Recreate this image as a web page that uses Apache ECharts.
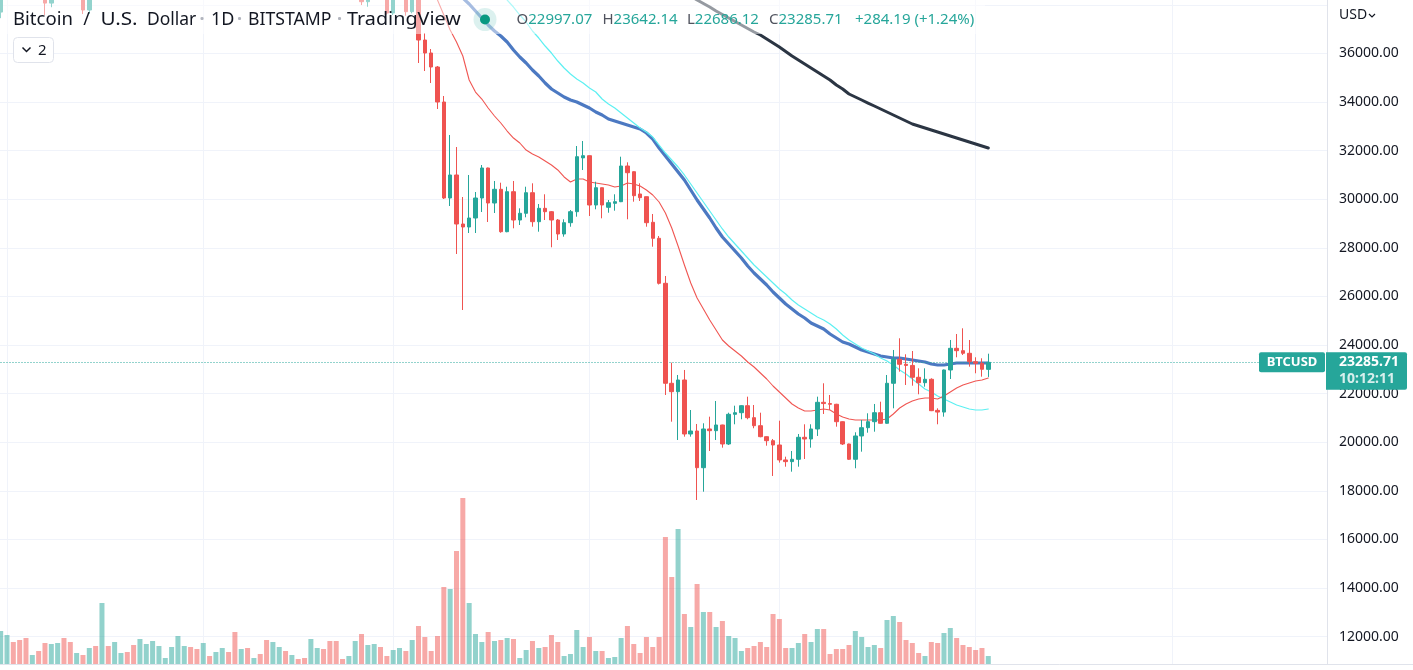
<!DOCTYPE html>
<html><head><meta charset="utf-8">
<script src="https://cdn.jsdelivr.net/npm/echarts@6/dist/echarts.min.js"></script>
<style>html,body{margin:0;padding:0;background:#fff;overflow:hidden}#c{width:1413px;height:670px}</style>
</head><body><div id="c"></div>
<script>
// ---- data (daily BTC/USD, Bitstamp, from 2022-02-28) ----
const firstDay = [2022, 1, 28];
const totalSlots = 210;
const opens = [37700,43190,44420,43910,42450,39150,39400,38420,38070,38730,
41940,39420,38730,38810,37785,39670,39280,41110,40920,41760,
42200,41260,41000,42360,42880,43990,44330,44510,46820,47130,
47460,47060,45530,46300,45850,46450,46620,45520,43200,43450,
42280,42770,42160,39520,40100,41150,39940,40550,40390,39700,
40800,41500,41370,40480,39710,39450,39460,40430,38127,39240,
39740,38600,37660,38470,38530,37716,39690,36551,36016,35440,
34000,30049,30996,28979,28856,29226,30049,31284,29843,30407,
28663,30309,29144,29420,30267,29074,29625,29486,29144,28568,
29033,29486,31700,31790,29761,30473,29667,29831,29897,31366,
31132,30214,30103,29049,28391,26539,22424,22079,22560,20338,
20461,18951,20544,20474,20708,19926,21148,21214,21502,21009,
20679,20227,20062,19885,19270,19200,19297,20202,20132,20544,
21642,21590,21560,20844,19926,19297,20256,20597,20844,21214,
20778,22424,23412,23206,23160,22671,22449,22589,21310,21240,
22972,23864,23766,23659,23313,23247,22997.07];
const highs = [44000,44950,45400,44100,42500,39600,39650,39450,39350,42600,
42000,40250,39300,39000,39900,39850,41700,41450,42300,42400,
42300,41550,43350,43000,44200,45100,44800,46900,48190,48100,
47700,47600,46700,47200,47450,46900,47150,45520,43900,43950,
42800,43450,42400,40700,41550,41500,40850,40700,40600,41100,
41750,42150,42950,40800,39950,39900,40600,40800,39450,40350,
39900,38800,38650,39150,38650,39900,39850,36839,36181,35481,
34247,32642,32148,30090,30996,30296,31407,31300,30749,30679,
30514,30749,29625,30514,30654,29802,30202,29514,29185,29173,
29555,32189,32395,31800,30720,30480,29967,30202,31749,31518,
31150,30654,30110,29391,28486,26840,23272,22766,22972,21325,
20750,20778,21050,21696,20720,21214,21502,21520,21873,21531,
21214,20240,20132,20885,19404,19638,20338,20737,20737,21873,
22424,21943,21580,20860,19940,20408,20914,21190,21573,21667,
22766,23795,24276,23618,23753,23041,23041,22630,21395,22990,
24206,24453,24687,24206,23494,23453,23642.14];
const lows = [37450,42850,43350,41850,38650,38600,38250,37580,37900,38650,
38550,38300,38650,37620,37620,38700,38900,40550,40200,41500,
40950,40500,40900,41850,42600,43600,44100,44400,46650,46950,
46550,45200,44200,45650,45550,45150,45400,43100,42750,42120,
42150,41900,39200,39250,39600,39550,39800,40000,39550,38550,
40600,40900,39800,39200,39300,38900,38300,37990,37920,38880,
38300,37600,37580,38250,37550,37650,35605,35275,34781,33712,
30008,29720,27745,25440,28609,28609,29473,29062,29432,28621,
28640,28802,28938,29255,28868,28663,29144,28021,28321,28457,
28868,29280,31201,29309,29584,29214,29444,29527,29880,29173,
29897,29926,28868,28045,26490,21943,20844,20091,20227,20227,
17622,17963,19638,20091,19775,19885,20737,20943,20943,20573,
20202,19856,18610,19160,18992,18787,18992,19309,19775,20256,
21161,21325,20639,19885,19268,18927,19610,20391,20433,20760,
20760,21395,22902,22354,22325,21972,22284,21280,20737,21050,
22601,23494,23589,23108,22836,22696,22686.12];
const closes = [43190,44420,43910,42450,39150,39400,38420,38070,38730,41940,
39420,38730,38810,37785,39670,39280,41110,40920,41760,42200,
41260,41000,42360,42880,43990,44330,44510,46820,47130,47460,
47060,45530,46300,45850,46450,46620,45520,43200,43450,42280,
42770,42160,39520,40100,41150,39940,40550,40390,39700,40800,
41500,41370,40480,39710,39450,39460,40430,38127,39240,39740,
38600,37660,38470,38530,37716,39690,36551,36016,35440,34000,
30049,30996,28979,28856,29226,30049,31284,29843,30407,28663,
30309,29144,29420,30267,29074,29625,29486,29144,28568,29033,
29486,31749,31790,29761,30473,29761,29856,29897,31366,31090,
30144,30062,29033,28391,26539,22424,22079,22560,20338,20461,
18951,20544,20474,20708,19926,21148,21214,21502,21009,20679,
20227,20062,19885,19270,19200,19297,20202,20132,20544,21642,
21590,21560,20844,19926,19297,20256,20597,20844,21214,20778,
22424,23412,23206,23160,22671,22449,22589,21297,21240,22972,
23864,23766,23659,23313,23247,23001.52,23285.71];
const volumes = [3300,2900,2200,2400,2600,900,1300,2100,2000,2100,
2600,2200,1100,900,1600,1800,6100,1800,2200,1100,
1200,1900,2500,2000,2300,1800,600,1700,2800,1800,
1700,1500,2100,800,1200,1600,1200,3200,1500,1600,
600,1000,2400,2200,1700,1300,900,500,600,2500,
1600,1500,2300,2300,500,800,2300,3000,1900,2000,
1700,800,1400,1600,1300,2400,3800,2700,1300,2800,
7700,7500,11300,16600,6100,3000,2200,3200,2300,2400,
2600,2500,600,1400,2300,1600,1700,2900,2200,800,
1000,3400,1700,2700,1300,1300,600,700,2600,3800,
2000,1100,2700,1700,2700,12700,8700,13500,5000,3700,
8000,5200,5200,3700,4300,2800,2600,1300,1600,1800,
2200,1700,5000,4500,1600,1600,2100,3000,2200,3500,
3500,1000,1500,1500,1900,3300,2700,1700,1900,1600,
4400,4800,4200,2400,2100,1100,800,2200,2100,3100,
3600,2600,1900,1700,1400,1600,800];
// moving averages (first index given)
const maRedStart = 68;
const maRed = [38814,38197,37580,36962,36469,35893,34905,34411,34123,33753,
33424,33136,32806,32518,32313,32024,31860,31737,31572,31407,
31202,30914,30708,30831,30831,30708,30667,30625,30584,30502,
30543,30667,30625,30543,30379,30173,29885,29432,28815,28074,
27292,26552,25934,25482,25029,24617,24206,23959,23753,23547,
23300,23095,22848,22601,22313,22066,21819,21572,21408,21284,
21284,21325,21366,21325,21161,21038,20955,20914,20914,20914,
20914,20914,20955,21161,21408,21572,21696,21778,21819,21819,
21778,21902,22066,22231,22354,22437,22519,22560,22642];
const maBlueStart = 72;
const maBlue = [38526,38279,38032,37744,37456,37168,36921,36716,36469,36140,
35851,35605,35317,35070,34782,34535,34370,34205,34082,33999,
33876,33753,33588,33465,33300,33218,33136,33053,32971,32889,
32724,32477,32107,31778,31448,31119,30790,30378,29967,29597,
29226,28815,28445,28157,27868,27580,27251,26963,26716,26469,
26181,25934,25687,25482,25276,25111,24906,24782,24659,24453,
24288,24124,24041,23918,23795,23712,23630,23548,23506,23465,
23465,23424,23383,23342,23301,23219,23177,23177,23219,23260,
23260,23260,23260,23260,23260];
const maCyanStart = 79;
const maCyan = [38691,38197,37909,37580,37292,36921,36633,36304,36016,35687,
35399,35152,34946,34782,34576,34411,34123,33917,33753,33547,
33341,33136,32930,32765,32559,32230,31901,31613,31325,30996,
30625,30255,29884,29514,29144,28774,28444,28157,27868,27580,
27292,27045,26798,26552,26305,26099,25852,25646,25482,25317,
25152,25029,24864,24659,24412,24206,24041,23877,23753,23630,
23465,23342,23177,22972,22807,22601,22395,22190,22066,21902,
21778,21654,21531,21449,21366,21325,21325,21366];
const maDarkStart = 109;
const maDark = [38362,38197,38053,37909,37744,37600,37456,37312,37168,37024,
36880,36757,36592,36428,36263,36078,35893,35728,35563,35399,
35234,35070,34905,34699,34535,34329,34206,34082,33958,33835,
33712,33588,33465,33341,33218,33094,33012,32930,32847,32765,
32683,32601,32518,32436,32354,32271,32189,32107];
const priceTicks = [12000,14000,16000,18000,20000,22000,24000,26000,28000,30000,32000,34000,36000];
const titleWords = ['Bitcoin', '/', 'U.S.', 'Dollar', '1D', 'BITSTAMP', 'TradingView'];
const countdown = '10:12:11';
const quoteCurrency = 'USD';
const tickerName = 'BTCUSD';

// ---- build ----
const dates = [];
for (let i = 0; i < totalSlots; i++) {
  const d = new Date(Date.UTC(firstDay[0], firstDay[1], firstDay[2] + i));
  dates.push(d.toISOString().slice(0, 10));
}
const monthStarts = dates.filter(s => s.slice(8) === '01');
const candles = opens.map((o, i) => [o, closes[i], lows[i], highs[i]]);
const UP = '#26a69a', DOWN = '#ef5350';
const volData = volumes.map((v, i) => ({
  value: v,
  itemStyle: { color: closes[i] >= opens[i] ? 'rgba(38,166,154,0.5)' : 'rgba(239,83,80,0.5)' }
}));
function pad(start, arr) { const out = new Array(start).fill(null); return out.concat(arr); }
const FONT = '"Noto Sans", "Liberation Sans", sans-serif';
const n = closes.length;
const lastClose = closes[n - 1];
const prevClose = closes[n - 2];
const chg = lastClose - prevClose;
const chgPct = chg / prevClose * 100;

const chart = echarts.init(document.getElementById('c'), null, { renderer: 'canvas' });
const gridPrice = { left: -2.5, right: 86, top: -43.8, bottom: -15.2, containLabel: false, outerBoundsMode: 'none' };
const gridVol = { left: -2.5, right: 86, top: 0, bottom: 6, containLabel: false, outerBoundsMode: 'none' };
const hiddenX = (gi) => ({
  type: 'category', gridIndex: gi, data: dates, boundaryGap: true,
  axisLine: { show: false }, axisTick: { show: false }, axisLabel: { show: false }, splitLine: { show: false }
});
const lineSeries = (name, start, arr, color, width, z) => ({
  name, type: 'line', xAxisIndex: 0, yAxisIndex: 0, data: pad(start, arr),
  showSymbol: false, symbol: 'none', smooth: false, silent: true, z,
  lineStyle: { color, width, cap: 'round', join: 'round' }
});

const option = {
  animation: false,
  backgroundColor: '#ffffff',
  grid: [gridPrice, gridVol],
  xAxis: [hiddenX(0), hiddenX(1)],
  yAxis: [
    {
      type: 'value', gridIndex: 0, position: 'right', min: 10000, max: 40000, interval: 2000,
      axisLine: { show: true, lineStyle: { color: '#e0e3eb', width: 1 } },
      axisTick: { show: false },
      axisLabel: {
        show: true, margin: 12, color: '#131722', fontSize: 14, fontFamily: FONT,
        formatter: v => priceTicks.indexOf(v) >= 0 ? v.toFixed(2) : ''
      },
      splitLine: { show: true, lineStyle: { color: '#f0f3fa', width: 1 } }
    },
    {
      type: 'value', gridIndex: 1, position: 'right', min: 0, max: 66400,
      axisLine: { show: false }, axisTick: { show: false }, axisLabel: { show: false }, splitLine: { show: false }
    }
  ],
  series: [
    {
      name: 'Volume', type: 'bar', xAxisIndex: 1, yAxisIndex: 1, data: volData,
      barWidth: 5, silent: true, z: 1,
      markLine: {
        silent: true, symbol: ['none', 'none'], z: 0, animation: false,
        label: { show: false },
        lineStyle: { color: '#f0f3fa', width: 1, type: 'solid' },
        data: monthStarts.map(d => ({ xAxis: d }))
      }
    },
    lineSeries('MA slow', maDarkStart, maDark, '#2b3543', 3, 3),
    lineSeries('MA blue', maBlueStart, maBlue, '#4c79c2', 3.2, 3),
    lineSeries('MA cyan', maCyanStart, maCyan, '#5cf0f2', 1.2, 4),
    lineSeries('MA red', maRedStart, maRed, '#f05652', 1.1, 4),
    {
      name: 'BTCUSD', type: 'candlestick', xAxisIndex: 0, yAxisIndex: 0, data: candles,
      barWidth: 4, silent: true, z: 5, clip: true,
      itemStyle: { color: UP, color0: DOWN, borderColor: UP, borderColor0: DOWN, borderWidth: 1 },
      markLine: {
        silent: true, symbol: ['none', 'none'], z: 4, animation: false,
        label: { show: false },
        lineStyle: { color: '#26a69a', width: 1, type: [1, 2] },
        data: [{ yAxis: lastClose }]
      }
    }
  ]
};
chart.setOption(option);

const py = chart.convertToPixel({ yAxisIndex: 0 }, lastClose);
// [x, align, scaleX] for each title word
const titlePos = [[13, 'left', 1.03], [86.5, 'center', 1], [119, 'center', 1.15], [147, 'left', 0.97], [211, 'left', 1], [248, 'left', 0.98], [347, 'left', 1.1]];
const sepX = [202, 239.5, 339.5];
const graphic = [];
graphic.push({ type: 'rect', z: 90, silent: true, shape: { x: 0, y: 0, width: 985, height: 34 }, style: { fill: 'rgba(255,255,255,0.5)' } });
titleWords.forEach((t, i) => graphic.push({ type: 'text', z: 100, x: titlePos[i][0], y: 20, scaleX: titlePos[i][2], style: { text: t, fill: '#131722', font: '18px ' + FONT, align: titlePos[i][1], verticalAlign: 'middle' } }));
sepX.forEach(x => graphic.push({ type: 'text', z: 100, x: x, y: 20, style: { text: '·', fill: '#b2b5be', font: 'bold 18px ' + FONT, align: 'center', verticalAlign: 'middle' } }));
graphic.push({ type: 'circle', z: 100, shape: { cx: 485, cy: 19.5, r: 11.5 }, style: { fill: 'rgba(38,166,154,0.16)' } });
graphic.push({ type: 'circle', z: 101, shape: { cx: 485, cy: 19.5, r: 5 }, style: { fill: '#089981' } });
const ohlc = [['O', opens[n - 1].toFixed(2), 516.5], ['H', highs[n - 1].toFixed(2), 602.5], ['L', lows[n - 1].toFixed(2), 687], ['C', lastClose.toFixed(2), 769]];
ohlc.forEach(([l, v, x]) => graphic.push({
  type: 'text', z: 100, x: x, y: 20,
  style: { text: '{l|' + l + '}{v|' + v + '}', verticalAlign: 'middle', font: '15px ' + FONT,
    rich: { l: { fill: '#50535e', color: '#50535e', fontSize: 15, fontFamily: FONT }, v: { fill: '#26a69a', color: '#26a69a', fontSize: 15, fontFamily: FONT } } }
}));
graphic.push({ type: 'text', z: 100, x: 855, y: 20, style: { text: (chg >= 0 ? '+' : '') + chg.toFixed(2) + ' (' + (chg >= 0 ? '+' : '') + chgPct.toFixed(2) + '%)', fill: '#26a69a', font: '15px ' + FONT, verticalAlign: 'middle' } });
// collapse button
graphic.push({ type: 'rect', z: 100, shape: { x: 13.5, y: 37.5, width: 40, height: 25, r: 4 }, style: { fill: '#ffffff', stroke: '#e0e3eb', lineWidth: 1 } });
graphic.push({ type: 'polyline', z: 101, shape: { points: [[22.5, 47.5], [26.5, 51.5], [30.5, 47.5]] }, style: { stroke: '#131722', lineWidth: 1.5, fill: null } });
graphic.push({ type: 'text', z: 101, x: 38, y: 50.5, style: { text: '2', fill: '#131722', font: '15px ' + FONT, verticalAlign: 'middle' } });
// currency
graphic.push({ type: 'text', z: 100, x: 1339, y: 15, style: { text: quoteCurrency, fill: '#131722', font: '14px ' + FONT, verticalAlign: 'middle' } });
graphic.push({ type: 'polyline', z: 100, shape: { points: [[1369, 14], [1372, 17], [1375, 14]] }, style: { stroke: '#131722', lineWidth: 1.2, fill: null } });
// bottom border
graphic.push({ type: 'line', z: 100, shape: { x1: 0, y1: 664.5, x2: 1413, y2: 664.5 }, style: { stroke: '#e0e3eb', lineWidth: 1 } });
graphic.push({ type: 'rect', z: 99, shape: { x: 0, y: 665, width: 1413, height: 5 }, style: { fill: '#ffffff' } });
// last price labels
graphic.push({ type: 'rect', z: 110, shape: { x: 1259, y: py - 10, width: 66, height: 20, r: 2 }, style: { fill: '#26a69a' } });
graphic.push({ type: 'text', z: 111, x: 1292, y: py, style: { text: tickerName, fill: '#ffffff', font: 'bold 13px ' + FONT, align: 'center', verticalAlign: 'middle' } });
graphic.push({ type: 'rect', z: 110, shape: { x: 1326, y: py - 10, width: 81, height: 37.5, r: [0, 2, 2, 0] }, style: { fill: '#26a69a' } });
graphic.push({ type: 'text', z: 111, x: 1339, y: py, style: { text: lastClose.toFixed(2), fill: '#ffffff', font: 'bold 14px ' + FONT, verticalAlign: 'middle' } });
graphic.push({ type: 'text', z: 111, x: 1339, y: py + 17, style: { text: countdown, fill: 'rgba(255,255,255,0.82)', font: 'bold 14px ' + FONT, verticalAlign: 'middle' } });
chart.setOption({ graphic: graphic });
</script>
</body></html>
